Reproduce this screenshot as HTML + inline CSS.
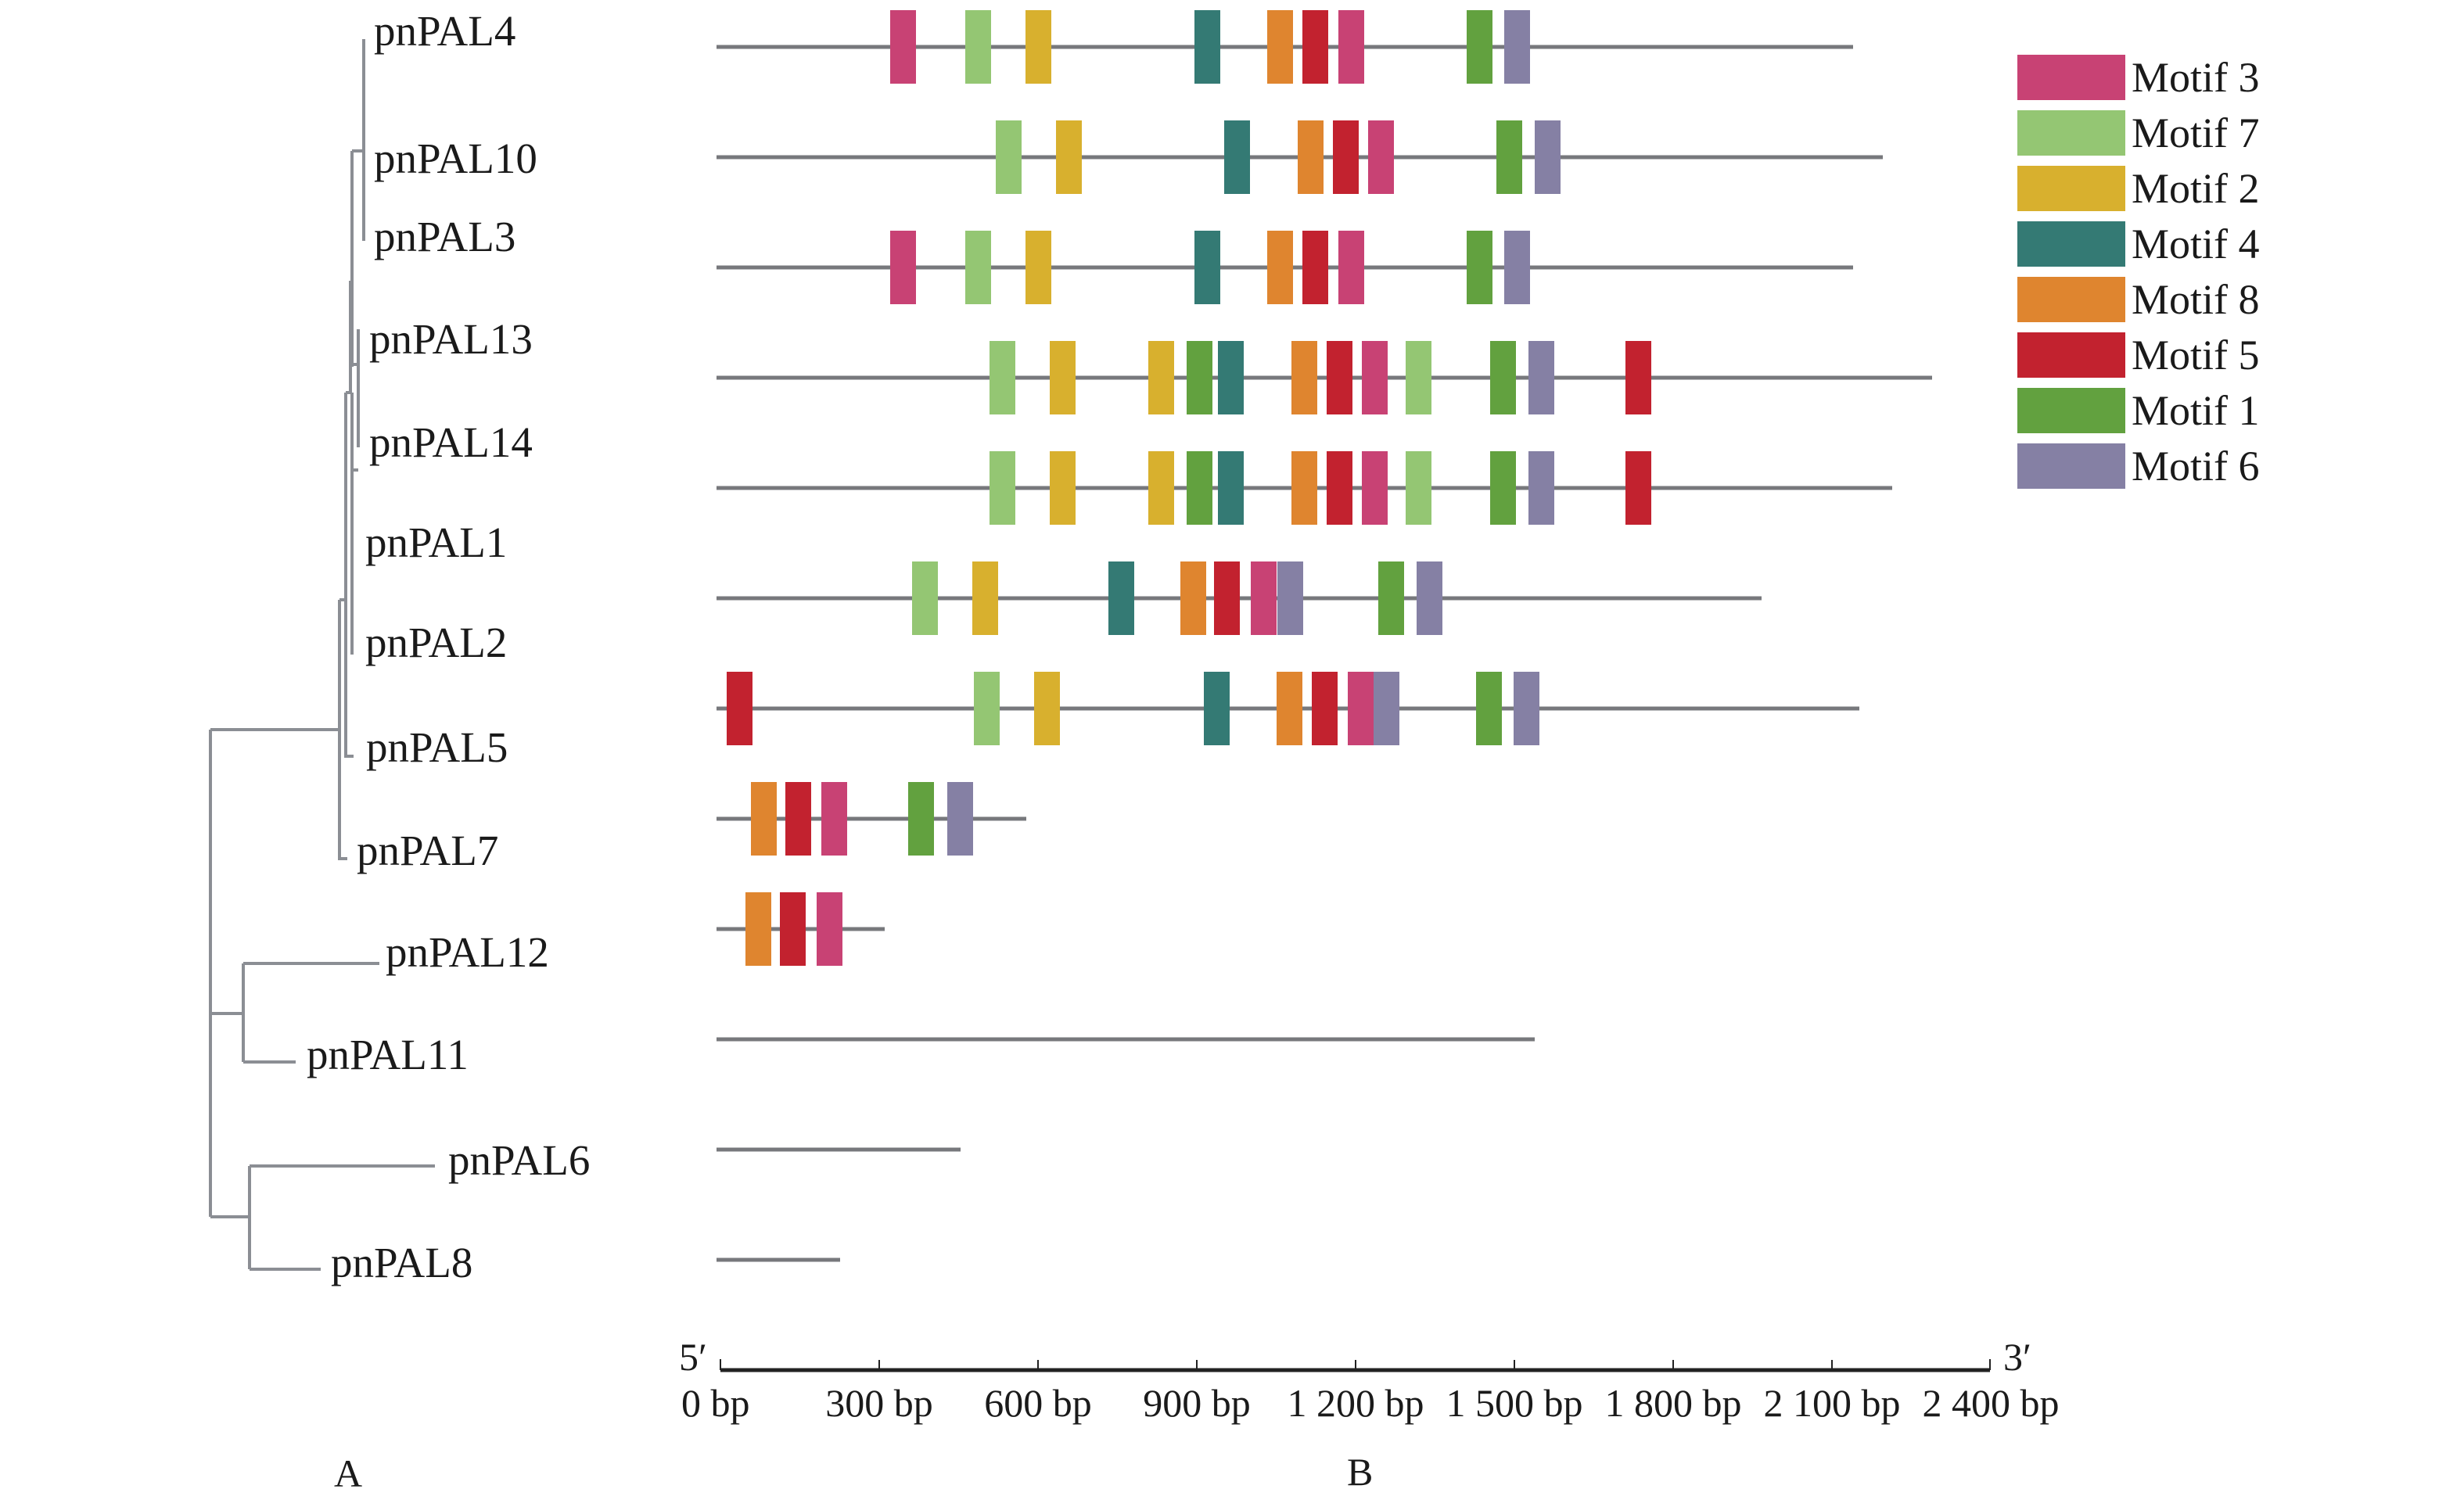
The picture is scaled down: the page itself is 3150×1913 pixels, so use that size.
<!DOCTYPE html>
<html><head><meta charset="utf-8"><style>
html,body{margin:0;padding:0;background:#fff;}
svg{display:block;}
text{font-family:"Liberation Serif",serif;fill:#1a1a1a;}
</style></head><body>
<svg width="3150" height="1913" viewBox="0 0 3150 1913" xmlns="http://www.w3.org/2000/svg">
<g stroke="#8b8e94" stroke-width="4" fill="none">
<path d="M269 933 V1556"/>
<path d="M269 933 H434"/>
<path d="M434 767 V1098 H444"/>
<path d="M434 767 H443"/>
<path d="M442 767 V967 H452"/>
<path d="M442 502 V767"/>
<path d="M442 502 H450"/>
<path d="M450 502 V837"/>
<path d="M450 601 H458"/>
<path d="M448 359 V502"/>
<path d="M450 193 V469"/>
<path d="M450 466 H458"/>
<path d="M458 421 V572"/>
<path d="M450 193 H465"/>
<path d="M465 50 V308"/>
<path d="M269 1296 H311"/>
<path d="M311 1232 V1358"/>
<path d="M311 1232 H485"/>
<path d="M311 1358 H378"/>
<path d="M269 1556 H319"/>
<path d="M319 1491 V1623"/>
<path d="M319 1491 H556"/>
<path d="M319 1623 H410"/>
</g>
<g font-size="55">
<text x="478" y="58">pnPAL4</text>
<text x="478" y="221">pnPAL10</text>
<text x="478" y="321">pnPAL3</text>
<text x="472" y="452">pnPAL13</text>
<text x="472" y="584">pnPAL14</text>
<text x="467" y="712">pnPAL1</text>
<text x="467" y="840">pnPAL2</text>
<text x="468" y="974">pnPAL5</text>
<text x="456" y="1106">pnPAL7</text>
<text x="493" y="1236">pnPAL12</text>
<text x="392" y="1367">pnPAL11</text>
<text x="573" y="1502">pnPAL6</text>
<text x="423" y="1633">pnPAL8</text>
</g>
<g stroke="#77787c" stroke-width="5">
<line x1="916" y1="60" x2="2369" y2="60"/>
<line x1="916" y1="201" x2="2407" y2="201"/>
<line x1="916" y1="342" x2="2369" y2="342"/>
<line x1="916" y1="483" x2="2470" y2="483"/>
<line x1="916" y1="624" x2="2419" y2="624"/>
<line x1="916" y1="765" x2="2252" y2="765"/>
<line x1="916" y1="906" x2="2377" y2="906"/>
<line x1="916" y1="1047" x2="1312" y2="1047"/>
<line x1="916" y1="1188" x2="1131" y2="1188"/>
<line x1="916" y1="1329" x2="1962" y2="1329"/>
<line x1="916" y1="1470" x2="1228" y2="1470"/>
<line x1="916" y1="1611" x2="1074" y2="1611"/>
</g>
<defs>
<rect id="b" width="33" height="94"/>
</defs>
<g>
<g transform="translate(0,13)">
<use href="#b" x="1138" fill="#c84274"/><use href="#b" x="1234" fill="#94c673"/><use href="#b" x="1311" fill="#d8b02e"/><use href="#b" x="1527" fill="#347a74"/><use href="#b" x="1620" fill="#df852f"/><use href="#b" x="1665" fill="#c2222f"/><use href="#b" x="1711" fill="#c84274"/><use href="#b" x="1875" fill="#62a13f"/><use href="#b" x="1923" fill="#8580a4"/>
</g>
<g transform="translate(0,154)">
<use href="#b" x="1273" fill="#94c673"/><use href="#b" x="1350" fill="#d8b02e"/><use href="#b" x="1565" fill="#347a74"/><use href="#b" x="1659" fill="#df852f"/><use href="#b" x="1704" fill="#c2222f"/><use href="#b" x="1749" fill="#c84274"/><use href="#b" x="1913" fill="#62a13f"/><use href="#b" x="1962" fill="#8580a4"/>
</g>
<g transform="translate(0,295)">
<use href="#b" x="1138" fill="#c84274"/><use href="#b" x="1234" fill="#94c673"/><use href="#b" x="1311" fill="#d8b02e"/><use href="#b" x="1527" fill="#347a74"/><use href="#b" x="1620" fill="#df852f"/><use href="#b" x="1665" fill="#c2222f"/><use href="#b" x="1711" fill="#c84274"/><use href="#b" x="1875" fill="#62a13f"/><use href="#b" x="1923" fill="#8580a4"/>
</g>
<g transform="translate(0,436)">
<use href="#b" x="1265" fill="#94c673"/><use href="#b" x="1342" fill="#d8b02e"/><use href="#b" x="1468" fill="#d8b02e"/><use href="#b" x="1517" fill="#62a13f"/><use href="#b" x="1557" fill="#347a74"/><use href="#b" x="1651" fill="#df852f"/><use href="#b" x="1696" fill="#c2222f"/><use href="#b" x="1741" fill="#c84274"/><use href="#b" x="1797" fill="#94c673"/><use href="#b" x="1905" fill="#62a13f"/><use href="#b" x="1954" fill="#8580a4"/><use href="#b" x="2078" fill="#c2222f"/>
</g>
<g transform="translate(0,577)">
<use href="#b" x="1265" fill="#94c673"/><use href="#b" x="1342" fill="#d8b02e"/><use href="#b" x="1468" fill="#d8b02e"/><use href="#b" x="1517" fill="#62a13f"/><use href="#b" x="1557" fill="#347a74"/><use href="#b" x="1651" fill="#df852f"/><use href="#b" x="1696" fill="#c2222f"/><use href="#b" x="1741" fill="#c84274"/><use href="#b" x="1797" fill="#94c673"/><use href="#b" x="1905" fill="#62a13f"/><use href="#b" x="1954" fill="#8580a4"/><use href="#b" x="2078" fill="#c2222f"/>
</g>
<g transform="translate(0,718)">
<use href="#b" x="1166" fill="#94c673"/><use href="#b" x="1243" fill="#d8b02e"/><use href="#b" x="1417" fill="#347a74"/><use href="#b" x="1509" fill="#df852f"/><use href="#b" x="1552" fill="#c2222f"/><use href="#b" x="1599" fill="#c84274"/><use href="#b" x="1633" fill="#8580a4"/><use href="#b" x="1762" fill="#62a13f"/><use href="#b" x="1811" fill="#8580a4"/>
</g>
<g transform="translate(0,859)">
<use href="#b" x="929" fill="#c2222f"/><use href="#b" x="1245" fill="#94c673"/><use href="#b" x="1322" fill="#d8b02e"/><use href="#b" x="1539" fill="#347a74"/><use href="#b" x="1632" fill="#df852f"/><use href="#b" x="1677" fill="#c2222f"/><use href="#b" x="1723" fill="#c84274"/><use href="#b" x="1756" fill="#8580a4"/><use href="#b" x="1887" fill="#62a13f"/><use href="#b" x="1935" fill="#8580a4"/>
</g>
<g transform="translate(0,1000)">
<use href="#b" x="960" fill="#df852f"/><use href="#b" x="1004" fill="#c2222f"/><use href="#b" x="1050" fill="#c84274"/><use href="#b" x="1161" fill="#62a13f"/><use href="#b" x="1211" fill="#8580a4"/>
</g>
<g transform="translate(0,1141)">
<use href="#b" x="953" fill="#df852f"/><use href="#b" x="997" fill="#c2222f"/><use href="#b" x="1044" fill="#c84274"/>
</g>
</g>
<g>
<rect x="2579" y="70" width="138" height="58" fill="#c84274"/>
<rect x="2579" y="141" width="138" height="58" fill="#94c673"/>
<rect x="2579" y="212" width="138" height="58" fill="#d8b02e"/>
<rect x="2579" y="283" width="138" height="58" fill="#347a74"/>
<rect x="2579" y="354" width="138" height="58" fill="#df852f"/>
<rect x="2579" y="425" width="138" height="58" fill="#c2222f"/>
<rect x="2579" y="496" width="138" height="58" fill="#62a13f"/>
<rect x="2579" y="567" width="138" height="58" fill="#8580a4"/>
</g>
<g font-size="54">
<text x="2725" y="117">Motif 3</text>
<text x="2725" y="188">Motif 7</text>
<text x="2725" y="259">Motif 2</text>
<text x="2725" y="330">Motif 4</text>
<text x="2725" y="401">Motif 8</text>
<text x="2725" y="472">Motif 5</text>
<text x="2725" y="543">Motif 1</text>
<text x="2725" y="614">Motif 6</text>
</g>
<g stroke="#222" fill="none">
<line x1="921" y1="1752" x2="2544" y2="1752" stroke-width="5"/>
<path d="M921 1738V1752M1124 1739V1752M1327 1739V1752M1530 1739V1752M1733 1739V1752M1936 1739V1752M2139 1739V1752M2342 1739V1752M2544 1738V1752" stroke-width="2"/>
</g>
<g font-size="50">
<text x="868" y="1752">5′</text>
<text x="2561" y="1752">3′</text>
<text x="871" y="1811">0 bp</text>
<text x="1124" y="1811" text-anchor="middle">300 bp</text>
<text x="1327" y="1811" text-anchor="middle">600 bp</text>
<text x="1530" y="1811" text-anchor="middle">900 bp</text>
<text x="1733" y="1811" text-anchor="middle">1 200 bp</text>
<text x="1936" y="1811" text-anchor="middle">1 500 bp</text>
<text x="2139" y="1811" text-anchor="middle">1 800 bp</text>
<text x="2342" y="1811" text-anchor="middle">2 100 bp</text>
<text x="2545" y="1811" text-anchor="middle">2 400 bp</text>
<text x="427" y="1901">A</text>
<text x="1722" y="1899">B</text>
</g>
</svg>
</body></html>
